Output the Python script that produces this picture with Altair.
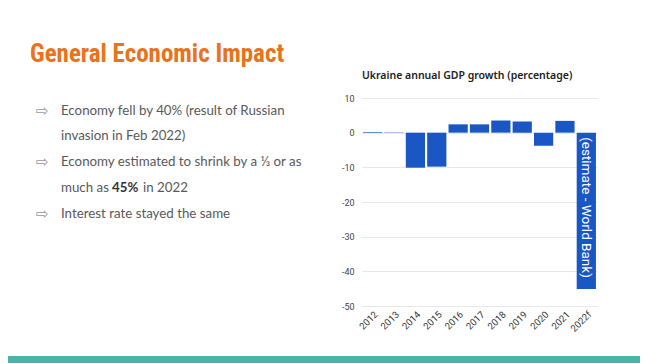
import altair as alt
import pandas as pd

years = ["2012", "2013", "2014", "2015", "2016", "2017", "2018", "2019", "2020", "2021", "2022f"]
growth = [0.2, 0.1, -10.1, -9.8, 2.4, 2.4, 3.5, 3.2, -3.8, 3.4, -45.1]
y_ticks = [10, 0, -10, -20, -30, -40, -50]

slide_title = "General Economic Impact"
chart_title = "Ukraine annual GDP growth (percentage)"
bar_note = "(estimate - World Bank)"
bullet_lines = [
    "Economy fell by 40% (result of Russian",
    "invasion in Feb 2022)",
    "Economy estimated to shrink by a \u2153 or as",
    "much as",
    "Interest rate stayed the same",
]
bullet_arrows = [True, False, True, False, True]

df = pd.DataFrame({"year": years, "growth": growth})

x_axis = alt.Axis(labelAngle=-45, labelFontSize=9.5, labelColor="#333",
                  labelFont="Roboto", ticks=False, domain=False, labelPadding=3,
                  labelOverlap=False)
y_axis = alt.Axis(values=y_ticks, labelFontSize=9, labelColor="#444",
                  labelFont="Roboto", ticks=False, domain=False, labelPadding=8,
                  labelOverlap=False, labelFlush=False, gridColor="#e8e8e8",
                  labelExpr="toString(datum.value)")
x_scale = alt.Scale(paddingInner=0.1, paddingOuter=0.05)
y_scale = alt.Scale(domain=[-50, 10], nice=False)

bars = alt.Chart(df).mark_bar(color="#1a56c4").encode(
    x=alt.X("year:N", sort=years, title=None, scale=x_scale, axis=x_axis),
    y=alt.Y("growth:Q", title=None, scale=y_scale, axis=y_axis),
)

note = alt.Chart(pd.DataFrame({"year": [years[-1]], "growth": [-1.3], "t": [bar_note]})).mark_text(
    angle=90, align="left", baseline="middle", color="white", fontSize=13.5, font="Roboto"
).encode(
    x=alt.X("year:N", sort=years, title=None, scale=x_scale, axis=x_axis),
    y=alt.Y("growth:Q", title=None, scale=y_scale, axis=y_axis),
    text="t:N",
)

layers = [bars, note]

layers.append(alt.Chart(pd.DataFrame({"t": [chart_title]})).mark_text(
    align="left", baseline="alphabetic", fontSize=10.5, fontWeight=600, font="Noto Sans", color="#222"
).encode(x=alt.value(0), y=alt.value(-19), text="t:N"))

layers.append(alt.Chart(pd.DataFrame({"t": [slide_title]})).mark_text(
    align="left", baseline="alphabetic", fontSize=25, fontWeight="bold",
    font="'Roboto Condensed', 'DejaVu Sans Condensed'", color="#e8731c"
).encode(x=alt.value(-332), y=alt.value(-36), text="t:N"))

line_y = [13, 38, 64, 90, 116]
for txt, ly, has_arrow in zip(bullet_lines, line_y, bullet_arrows):
    layers.append(alt.Chart(pd.DataFrame({"t": [txt]})).mark_text(
        align="left", baseline="middle", fontSize=13.3, font="Lato", color="#595959"
    ).encode(x=alt.value(-301), y=alt.value(ly), text="t:N"))
    if has_arrow:
        layers.append(alt.Chart(pd.DataFrame({"t": ["\u21e8"]})).mark_text(
            align="left", baseline="middle", fontSize=15, font="DejaVu Sans", color="#9a9a9a"
        ).encode(x=alt.value(-326), y=alt.value(ly), text="t:N"))

layers.append(alt.Chart(pd.DataFrame({"t": ["45%"]})).mark_text(
    align="left", baseline="middle", fontSize=13.3, font="Lato", fontWeight="bold", color="#333"
).encode(x=alt.value(-250), y=alt.value(line_y[3]), text="t:N"))

layers.append(alt.Chart(pd.DataFrame({"t": ["in 2022"]})).mark_text(
    align="left", baseline="middle", fontSize=13.3, font="Lato", color="#595959"
).encode(x=alt.value(-219), y=alt.value(line_y[3]), text="t:N"))

layers.append(alt.Chart(pd.DataFrame({"a": [0]})).mark_rect(color="#4bb3a7").encode(
    x=alt.value(-354), x2=alt.value(280), y=alt.value(258), y2=alt.value(266)))

chart = alt.layer(*layers).properties(
    width=235, height=208,
    autosize=alt.AutoSizeParams(type="none"),
    padding={"left": 354, "top": 90, "right": 43, "bottom": 57},
    background="white",
).configure_view(stroke=None)

chart.save("out.html", embed_options={"renderer": "svg", "actions": False})
